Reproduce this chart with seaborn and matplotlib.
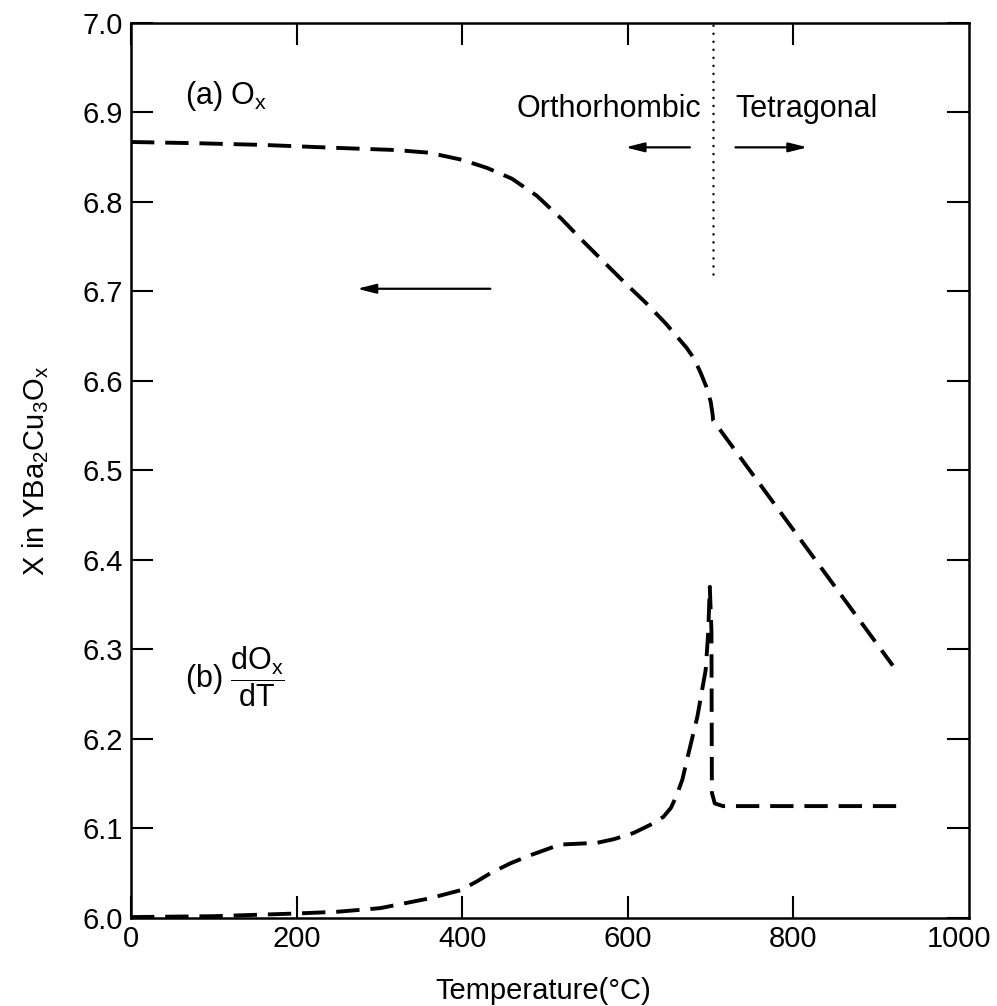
import matplotlib
matplotlib.use("Agg")
import matplotlib.pyplot as plt
import seaborn as sns
import pandas as pd

# ---- data ----
temp_a = [0, 80, 160, 240, 320, 360, 400, 430, 460, 490, 520, 545, 571, 596, 621, 646,
          671, 680, 688, 695, 700, 702.5, 703, 920]
ox_a = [6.867, 6.8656, 6.8637, 6.8607, 6.858, 6.855, 6.847, 6.838, 6.826, 6.807, 6.781,
        6.757, 6.733, 6.710, 6.688, 6.664, 6.637, 6.625, 6.609, 6.593, 6.577, 6.562,
        6.556, 6.282]

temp_b = [0, 100, 200, 250, 301, 361, 398, 418, 434, 458, 482, 518, 563, 583, 607, 627,
          643, 652, 659, 666, 671.5, 684, 694, 697, 699, 701, 701.5, 705, 715, 925]
ox_b = [6.001, 6.002, 6.005, 6.007, 6.011, 6.022, 6.031, 6.041, 6.050, 6.061, 6.070,
        6.082, 6.084, 6.088, 6.095, 6.104, 6.113, 6.123, 6.137, 6.155, 6.177, 6.225,
        6.277, 6.318, 6.37, 6.32, 6.14, 6.128, 6.125, 6.125]

x_ticks = [0, 200, 400, 600, 800, 1000]
y_ticks = [6.0, 6.1, 6.2, 6.3, 6.4, 6.5, 6.6, 6.7, 6.8, 6.9, 7.0]
transition_T = 703

df_a = pd.DataFrame({"T": temp_a, "X": ox_a})
df_b = pd.DataFrame({"T": temp_b, "X": ox_b})

sns.set_theme(style="white")
plt.rcParams["font.family"] = ["Liberation Sans", "DejaVu Sans"]
plt.rcParams["mathtext.fontset"] = "custom"
plt.rcParams["mathtext.rm"] = "Liberation Sans"
plt.rcParams["mathtext.it"] = "Liberation Sans"
plt.rcParams["mathtext.sf"] = "Liberation Sans"
plt.rcParams["mathtext.bf"] = "Liberation Sans:bold"
plt.rcParams["text.color"] = "black"
plt.rcParams["axes.labelcolor"] = "black"
plt.rcParams["xtick.color"] = "black"
plt.rcParams["ytick.color"] = "black"

FS = 21
FS_T = 22
fig = plt.figure(figsize=(9.97, 10.06), dpi=100)
ax = fig.add_axes([0.1314, 0.0875, 0.8405, 0.8897])

dash = (0, (6, 2.8))
sns.lineplot(data=df_a, x="T", y="X", ax=ax, sort=False, estimator=None,
             color="black", lw=2.8)
ax.lines[-1].set_linestyle(dash)
sns.lineplot(data=df_b, x="T", y="X", ax=ax, sort=False, estimator=None,
             color="black", lw=2.8)
ax.lines[-1].set_linestyle(dash)

# dotted phase boundary
ax.plot([transition_T, transition_T], [6.72, 7.0], color="black", lw=1.8,
        linestyle=(0, (0.01, 3.2)), dash_capstyle="round")

ax.set_xlim(0, 1012)
ax.set_ylim(6.0, 7.0)
ax.set_xticks(x_ticks)
ax.set_yticks(y_ticks)
ax.set_xticklabels([str(t) for t in x_ticks])
ax.set_yticklabels([f"{t:.1f}" for t in y_ticks])

ax.tick_params(axis="both", which="major", direction="in", length=16, width=1.5,
               labelsize=FS, colors="black", top=True, right=True,
               bottom=True, left=True, pad=6)
ax.tick_params(axis="x", pad=5)
# no tick mark at 1000 (close to right frame)
t_last = ax.xaxis.get_major_ticks()[-1]
t_last.tick1line.set_visible(False)
t_last.tick2line.set_visible(False)

for s in ax.spines.values():
    s.set_visible(True)
    s.set_color("black")
    s.set_linewidth(1.8)

ax.set_xlabel("Temperature(°C)", fontsize=FS, color="black")
ax.xaxis.set_label_coords(0.492, -0.066)
ax.set_ylabel("X in YBa$_2$Cu$_3$O$_x$", fontsize=FS, color="black")
ax.yaxis.set_label_coords(-0.095, 0.5)

# annotations
ax.text(65, 6.918, "(a) O$_x$", fontsize=FS_T, va="center", ha="left", color="black")
ax.text(65, 6.27, r"(b) $\dfrac{dO_x}{dT}$", fontsize=FS_T, va="center", ha="left",
        color="black")
ax.text(688, 6.904, "Orthorhombic", fontsize=FS_T, va="center", ha="right", color="black")
ax.text(730, 6.904, "Tetragonal", fontsize=FS_T, va="center", ha="left", color="black")

aprops = dict(arrowstyle="-|>,head_length=0.8,head_width=0.2", color="black",
              lw=1.6, mutation_scale=14, shrinkA=0, shrinkB=0)
ax.annotate("", xy=(273, 6.703), xytext=(434, 6.703), arrowprops=aprops)
ax.annotate("", xy=(597, 6.861), xytext=(675, 6.861), arrowprops=aprops)
ax.annotate("", xy=(817, 6.861), xytext=(730, 6.861), arrowprops=aprops)

fig.savefig("out.png", dpi=100)
